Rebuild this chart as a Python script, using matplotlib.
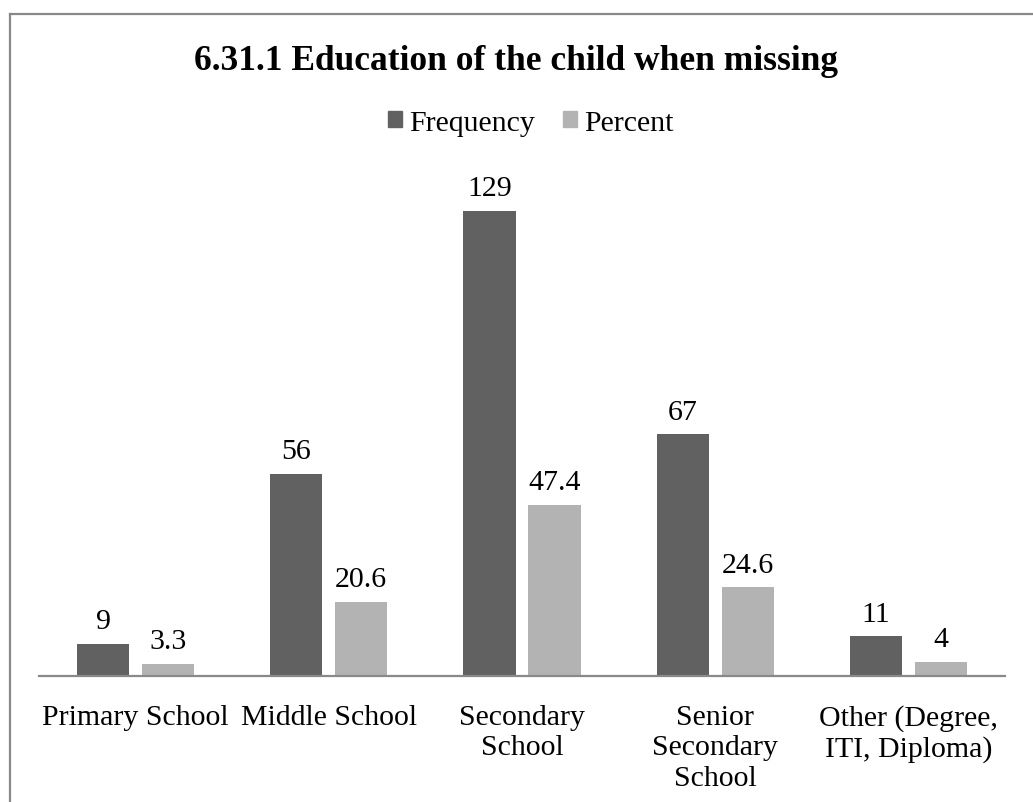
"""Education of the child when missing: grouped bar chart of frequency and percent."""

import matplotlib
matplotlib.use("Agg")
import matplotlib.pyplot as plt
import numpy as np
from matplotlib.lines import Line2D
from matplotlib.patches import Patch

categories = [
    "Primary School",
    "Middle School",
    "Secondary\nSchool",
    "Senior\nSecondary\nSchool",
    "Other (Degree,\nITI, Diploma)",
]
frequency = [9, 56, 129, 67, 11]
percent = [3.3, 20.6, 47.4, 24.6, 4]
freq_labels = ["9", "56", "129", "67", "11"]
pct_labels = ["3.3", "20.6", "47.4", "24.6", "4"]

DARK = "#616161"
LIGHT = "#b3b3b3"
AXIS_GRAY = "#898989"

plt.rcParams["font.family"] = ["Liberation Serif", "DejaVu Serif"]

W, H = 1033, 803
fig = plt.figure(figsize=(W / 100, H / 100), dpi=100)
ax = fig.add_axes([39 / W, 1 - 677 / H, (1005 - 39) / W, (677 - 172) / H])

x = np.arange(len(categories))
width = 0.27
offset = 0.168

bars_f = ax.bar(x - offset, frequency, width, color=DARK, label="Frequency")
bars_p = ax.bar(x + offset, percent, width, color=LIGHT, label="Percent")

# 数値ラベル
for bars, labels in ((bars_f, freq_labels), (bars_p, pct_labels)):
    for bar, txt in zip(bars, labels):
        ax.annotate(txt, (bar.get_x() + bar.get_width() / 2, bar.get_height()),
                    xytext=(0, 7), textcoords="offset points",
                    ha="center", va="bottom", fontsize=21.5)

ax.set_xlim(-0.5, len(categories) - 0.5)
ax.set_ylim(0, 140)
ax.set_xticks(x)
ax.set_xticklabels(categories, fontsize=21.5, linespacing=1.22, va="top")
ax.tick_params(axis="x", length=0, pad=20)
ax.set_yticks([])
for side in ("top", "right", "left"):
    ax.spines[side].set_visible(False)
ax.spines["bottom"].set_color(AXIS_GRAY)
ax.spines["bottom"].set_linewidth(1.6)

fig.text(0.5, 1 - 70 / H, "6.31.1 Education of the child when missing",
         ha="center", va="baseline", fontsize=25.5, fontweight="bold")

handles = [Patch(color=DARK, label="Frequency"), Patch(color=LIGHT, label="Percent")]
fig.legend(handles=handles, loc="center", bbox_to_anchor=(531 / W, 1 - 124 / H),
           ncol=2, frameon=False, fontsize=21.5, handlelength=0.45, handleheight=0.45,
           handletextpad=0.25, columnspacing=0.95)

# 外枠（上と左）
fig.add_artist(Line2D([10 / W, 1], [1 - 15 / H, 1 - 15 / H], color=AXIS_GRAY, lw=1.6))
fig.add_artist(Line2D([10 / W, 10 / W], [0, 1 - 15 / H], color=AXIS_GRAY, lw=1.6))

fig.savefig("out.png", dpi=100)
